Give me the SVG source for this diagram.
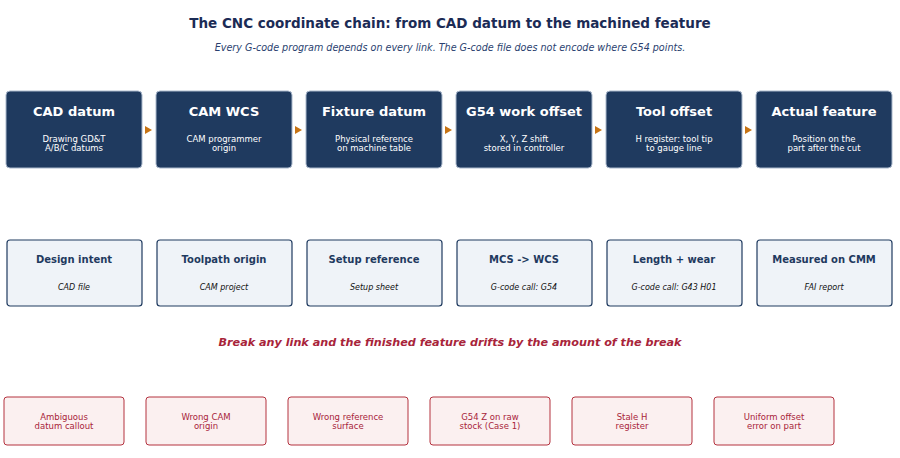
<svg xmlns="http://www.w3.org/2000/svg" width="900" height="458" viewBox="0 0 900 458">
<style>
text{font-family:"DejaVu Sans",sans-serif;text-anchor:middle}
.top rect{fill:#1f3a5f;stroke:#aab8cc;stroke-width:1}
.tt{fill:#fff;font-size:13px;font-weight:bold}
.ts{fill:#fff;font-size:8.5px}
.mid rect{fill:#eff3f8;stroke:#1f3a5f;stroke-width:1.2}
.mt{fill:#1f3a5f;font-size:10px;font-weight:bold}
.ms{fill:#111;font-size:8px;font-style:italic}
.red rect{fill:#fbf0f0;stroke:#b4323f;stroke-width:1}
.rt{fill:#a8243a;font-size:8.5px}
</style>
<rect width="900" height="458" fill="#fff"/>
<text x="450" y="28" style="font-size:13.5px;font-weight:bold;fill:#1b2b55">The CNC coordinate chain: from CAD datum to the machined feature</text>
<text x="450" y="51" style="font-size:9.6px;font-style:italic;fill:#2a3f6f">Every G-code program depends on every link. The G-code file does not encode where G54 points.</text>
<g id="connectors" fill="#c87414">
<path d="M145,126 L152,130 L145,134Z"/><path d="M295,126 L302,130 L295,134Z"/><path d="M445,126 L452,130 L445,134Z"/><path d="M595,126 L602,130 L595,134Z"/><path d="M745,126 L752,130 L745,134Z"/>
</g>
<g class="top">
<g id="n1"><rect x="6" y="91" width="136" height="77" rx="4"/><text class="tt" x="74" y="116">CAD datum</text><text class="ts" x="74" y="142">Drawing GD&amp;T</text><text class="ts" x="74" y="151">A/B/C datums</text></g>
<g id="n2"><rect x="156" y="91" width="136" height="77" rx="4"/><text class="tt" x="224" y="116">CAM WCS</text><text class="ts" x="224" y="142">CAM programmer</text><text class="ts" x="224" y="151">origin</text></g>
<g id="n3"><rect x="306" y="91" width="136" height="77" rx="4"/><text class="tt" x="374" y="116">Fixture datum</text><text class="ts" x="374" y="142">Physical reference</text><text class="ts" x="374" y="151">on machine table</text></g>
<g id="n4"><rect x="456" y="91" width="136" height="77" rx="4"/><text class="tt" x="524" y="116">G54 work offset</text><text class="ts" x="524" y="142">X, Y, Z shift</text><text class="ts" x="524" y="151">stored in controller</text></g>
<g id="n5"><rect x="606" y="91" width="136" height="77" rx="4"/><text class="tt" x="674" y="116">Tool offset</text><text class="ts" x="674" y="142">H register: tool tip</text><text class="ts" x="674" y="151">to gauge line</text></g>
<g id="n6"><rect x="756" y="91" width="136" height="77" rx="4"/><text class="tt" x="824" y="116">Actual feature</text><text class="ts" x="824" y="142">Position on the</text><text class="ts" x="824" y="151">part after the cut</text></g>
</g>
<g class="mid">
<g id="m1"><rect x="7" y="240" width="135" height="66" rx="3"/><text class="mt" x="74" y="263">Design intent</text><text class="ms" x="74" y="290">CAD file</text></g>
<g id="m2"><rect x="157" y="240" width="135" height="66" rx="3"/><text class="mt" x="224" y="263">Toolpath origin</text><text class="ms" x="224" y="290">CAM project</text></g>
<g id="m3"><rect x="307" y="240" width="135" height="66" rx="3"/><text class="mt" x="374" y="263">Setup reference</text><text class="ms" x="374" y="290">Setup sheet</text></g>
<g id="m4"><rect x="457" y="240" width="135" height="66" rx="3"/><text class="mt" x="524" y="263">MCS -&gt; WCS</text><text class="ms" x="524" y="290">G-code call: G54</text></g>
<g id="m5"><rect x="607" y="240" width="135" height="66" rx="3"/><text class="mt" x="674" y="263">Length + wear</text><text class="ms" x="674" y="290">G-code call: G43 H01</text></g>
<g id="m6"><rect x="757" y="240" width="135" height="66" rx="3"/><text class="mt" x="824" y="263">Measured on CMM</text><text class="ms" x="824" y="290">FAI report</text></g>
</g>
<text x="450" y="346" style="font-size:11.2px;font-weight:bold;font-style:italic;fill:#a8243a">Break any link and the finished feature drifts by the amount of the break</text>
<g class="red">
<g id="r1"><rect x="4" y="397" width="120" height="48" rx="3"/><text class="rt" x="64" y="420">Ambiguous</text><text class="rt" x="64" y="429">datum callout</text></g>
<g id="r2"><rect x="146" y="397" width="120" height="48" rx="3"/><text class="rt" x="206" y="420">Wrong CAM</text><text class="rt" x="206" y="429">origin</text></g>
<g id="r3"><rect x="288" y="397" width="120" height="48" rx="3"/><text class="rt" x="348" y="420">Wrong reference</text><text class="rt" x="348" y="429">surface</text></g>
<g id="r4"><rect x="430" y="397" width="120" height="48" rx="3"/><text class="rt" x="490" y="420">G54 Z on raw</text><text class="rt" x="490" y="429">stock (Case 1)</text></g>
<g id="r5"><rect x="572" y="397" width="120" height="48" rx="3"/><text class="rt" x="632" y="420">Stale H</text><text class="rt" x="632" y="429">register</text></g>
<g id="r6"><rect x="714" y="397" width="120" height="48" rx="3"/><text class="rt" x="774" y="420">Uniform offset</text><text class="rt" x="774" y="429">error on part</text></g>
</g>
</svg>
